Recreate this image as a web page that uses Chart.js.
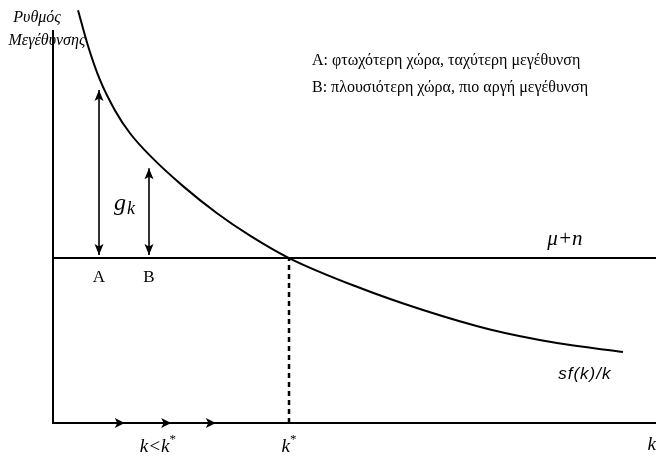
<!DOCTYPE html>
<html>
<head>
<meta charset="utf-8">
<script src="https://cdn.jsdelivr.net/npm/chart.js@4/dist/chart.umd.min.js"></script>
<style>html,body{margin:0;padding:0;background:#fff}</style>
</head>
<body>
<canvas id="c" width="656" height="456"></canvas>
<script>
// Solow growth diagram: growth rate sf(k)/k against capital per worker k
const curveK = [0.415, 0.580, 0.779, 1.028, 1.277, 1.609, 2.156, 2.720, 3.267, 3.914, 5.041, 6.136, 7.247, 8.358, 9.453];
const curveG = [9.76, 8.92, 8.11, 7.39, 6.85, 6.32, 5.60, 4.96, 4.43, 3.90, 3.22, 2.67, 2.21, 1.89, 1.68];
const muPlusN = 3.90;          // level of the μ+n line
const kStar = 3.914;           // steady state k*
const countryK = [0.763, 1.592];   // poorer country A, richer country B
const countryTop = [7.87, 6.02];   // top of each growth-gap arrow
const countryLabels = ['A', 'B'];
const flowK = [1.19, 1.96, 2.70];  // direction arrows along the k axis
const kMax = 10;
const gAxisTop = 9.29;

const BLACK = '#000';
const line = (pts, extra) => Object.assign({
  data: pts, showLine: true, borderColor: BLACK, borderWidth: 2,
  pointRadius: 0, fill: false, clip: false
}, extra || {});

const datasets = [
  line(curveK.map((k, i) => ({x: k, y: curveG[i]})), {cubicInterpolationMode: 'monotone'}),
  line([{x: 0, y: muPlusN}, {x: kMax, y: muPlusN}]),
  line([{x: kStar, y: 0}, {x: kStar, y: muPlusN}], {borderDash: [5, 4], borderWidth: 2.5}),
  line([{x: 0, y: gAxisTop}, {x: 0, y: 0}, {x: kMax, y: 0}]),
];
const arrowGap = 0.07;
countryK.forEach((k, i) => {
  datasets.push(line([{x: k, y: muPlusN + arrowGap}, {x: k, y: countryTop[i]}], {borderWidth: 1.6}));
});

// arrowheads drawn at the ends of the growth-gap arrows and along the k axis
const arrowHeads = {
  id: 'arrowHeads',
  afterDatasetsDraw(chart) {
    const {ctx, scales: {x, y}} = chart;
    const tri = (px, py, dir, len, half) => {
      const c = Math.cos(dir), s = Math.sin(dir);
      const bx = px - c * len, by = py - s * len;
      ctx.beginPath();
      ctx.moveTo(px, py);
      ctx.lineTo(bx - s * half, by + c * half);
      ctx.lineTo(bx + c * 2.5, by + s * 2.5);
      ctx.lineTo(bx + s * half, by - c * half);
      ctx.closePath();
      ctx.fill();
    };
    ctx.save();
    ctx.fillStyle = BLACK;
    countryK.forEach((k, i) => {
      const px = x.getPixelForValue(k);
      tri(px, y.getPixelForValue(countryTop[i]), -Math.PI / 2, 11, 4.5);
      tri(px, y.getPixelForValue(muPlusN + arrowGap), Math.PI / 2, 11, 4.5);
    });
    flowK.forEach(k => tri(x.getPixelForValue(k), y.getPixelForValue(0), 0, 10, 5));
    ctx.restore();
  }
};

// text annotations placed in data coordinates
const notes = [
  {t: 'Ρυθμός', k: -0.265, g: 9.58, font: 'italic 16px "Liberation Serif"', align: 'center'},
  {t: 'Μεγέθυνσης', k: -0.10, g: 9.03, font: 'italic 16px "Liberation Serif"', align: 'center'},
  {t: 'A: φτωχότερη χώρα, ταχύτερη μεγέθυνση', k: 4.295, g: 8.56, font: '16px "Liberation Serif"', align: 'left'},
  {t: 'B: πλουσιότερη χώρα, πιο αργή μεγέθυνση', k: 4.295, g: 7.92, font: '16px "Liberation Serif"', align: 'left'},
  {t: 'μ+n', k: 8.49, g: 4.33, font: 'italic 21px "Liberation Serif"', align: 'center'},
  {t: 'sf(k)/k', k: 8.82, g: 1.16, font: 'italic 17px "Liberation Sans"', align: 'center', spacing: '1px'},
];

const textPlugin = {
  id: 'notes',
  afterDatasetsDraw(chart) {
    const {ctx, scales: {x, y}} = chart;
    ctx.save();
    ctx.fillStyle = BLACK;
    ctx.textBaseline = 'middle';
    notes.forEach(n => {
      ctx.font = n.font;
      ctx.textAlign = n.align;
      ctx.letterSpacing = n.spacing || '0px';
      ctx.fillText(n.t, x.getPixelForValue(n.k), y.getPixelForValue(n.g));
    });
    ctx.letterSpacing = '0px';
    // country labels under the μ+n line
    ctx.font = '17px "Liberation Serif"';
    ctx.textAlign = 'center';
    countryK.forEach((k, i) => ctx.fillText(countryLabels[i], x.getPixelForValue(k), y.getPixelForValue(muPlusN) + 20));
    // growth gap g_k
    const gx = x.getPixelForValue(1.01), gy = y.getPixelForValue(5.11);
    ctx.textAlign = 'left';
    ctx.textBaseline = 'alphabetic';
    ctx.font = 'italic 24px "Liberation Serif"';
    ctx.fillText('g', gx, gy + 3);
    const gw = ctx.measureText('g').width;
    ctx.font = 'italic 18px "Liberation Serif"';
    ctx.fillText('k', gx + gw + 1, gy + 7);
    // labels along the k axis
    const y0 = y.getPixelForValue(0);
    const kStarLabel = (cx, base, prefix) => {
      ctx.font = 'italic 19px "Liberation Serif"';
      const pw = ctx.measureText(prefix).width;
      ctx.font = '13px "Liberation Serif"';
      const sw = ctx.measureText('*').width;
      const left = cx - (pw + sw) / 2;
      ctx.font = 'italic 19px "Liberation Serif"';
      ctx.fillText(prefix, left, base);
      ctx.font = '13px "Liberation Serif"';
      ctx.fillText('*', left + pw, base - 9);
    };
    kStarLabel(x.getPixelForValue(1.74), y0 + 29, 'k<k');
    kStarLabel(x.getPixelForValue(kStar), y0 + 29, 'k');
    ctx.font = 'italic 19px "Liberation Serif"';
    ctx.textAlign = 'center';
    ctx.fillText('k', x.getPixelForValue(9.93), y0 + 27);
    ctx.restore();
  }
};

new Chart(document.getElementById('c'), {
  type: 'scatter',
  data: {datasets},
  options: {
    responsive: false,
    animation: false,
    devicePixelRatio: 1,
    layout: {padding: {left: 53, right: 0, top: 0, bottom: 33}},
    plugins: {legend: {display: false}, tooltip: {enabled: false}},
    scales: {
      x: {type: 'linear', min: 0, max: kMax, display: false},
      y: {type: 'linear', min: 0, max: 10, display: false}
    }
  },
  plugins: [arrowHeads, textPlugin]
});
</script>
</body>
</html>
